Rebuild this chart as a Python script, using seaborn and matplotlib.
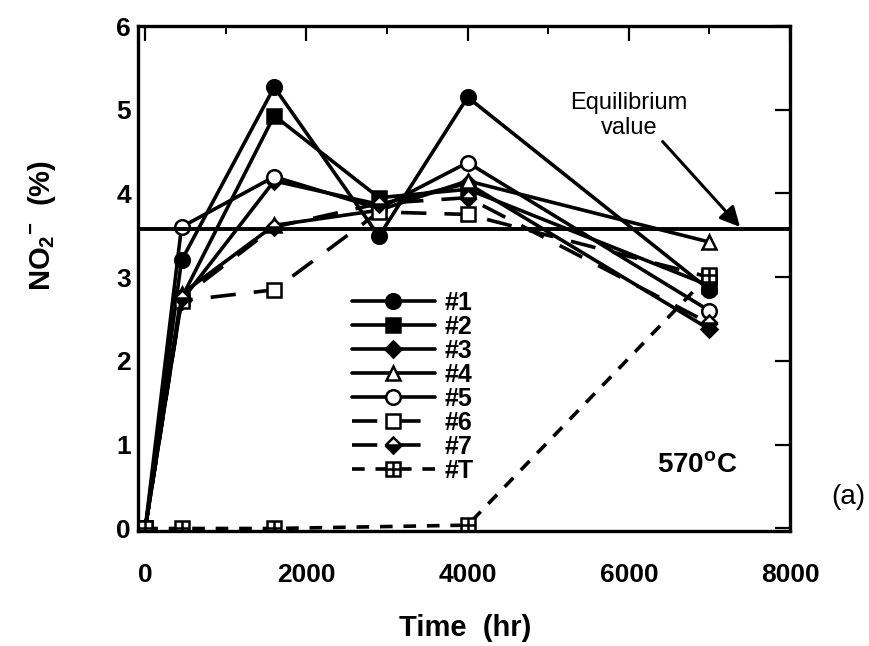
import matplotlib
matplotlib.use("Agg")
import matplotlib.pyplot as plt
import seaborn as sns
import numpy as np
import pandas as pd
from matplotlib.lines import Line2D
from matplotlib.legend_handler import HandlerTuple
from matplotlib.ticker import MultipleLocator

# ---------------- data ----------------
time_hr = [0, 450, 1600, 2900, 4000, 7000]
s1 = [0, 3.20, 5.27, 3.49, 5.15, 2.85]
s2 = [0, 2.75, 4.93, 3.95, 4.05, 2.90]
s3 = [0, 2.72, 4.15, 3.87, 4.12, 2.38]
s4 = [0, 2.80, 3.62, 3.80, 4.15, 3.42]
s5 = [0, 3.60, 4.20, 3.82, 4.37, 2.60]
s6 = [0, 2.72, 2.85, 3.78, 3.75, 3.00]
s7 = [0, 2.75, 3.60, 3.88, 3.95, 2.45]
time_T = [0, 450, 1600, 4000, 7000]
sT = [0, 0, 0, 0.04, 3.03]
labels = ["#1", "#2", "#3", "#4", "#5", "#6", "#7", "#T"]
equilibrium = 3.58
x_ticks = [0, 2000, 4000, 6000, 8000]
y_ticks = [0, 1, 2, 3, 4, 5, 6]

sns.set_style("white")
plt.rcParams["font.family"] = ["Liberation Sans", "DejaVu Sans"]
plt.rcParams["mathtext.fontset"] = "custom"
plt.rcParams["mathtext.rm"] = "Liberation Sans"
plt.rcParams["mathtext.bf"] = "Liberation Sans:bold"
plt.rcParams["text.color"] = "black"
plt.rcParams["axes.labelcolor"] = "black"
plt.rcParams["xtick.color"] = "black"
plt.rcParams["ytick.color"] = "black"

fig = plt.figure(figsize=(8.7, 6.46), dpi=100)
W, H = 870, 646
left, right, top, bottom = 138, 790, 26, 531
ax = fig.add_axes([left / W, 1 - bottom / H, (right - left) / W, (bottom - top) / H])

lw = 2.6
ms = 10.5
solid = "-"
longdash = (0, (7, 5))
shortdash = (0, (3.5, 3))

styles = [
    dict(marker="o", mfc="black", ls=solid),
    dict(marker="s", mfc="black", ls=solid),
    dict(marker="D", mfc="black", ls=solid, ms=8.5),
    dict(marker="^", mfc="white", ls=solid),
    dict(marker="o", mfc="white", ls=solid),
    dict(marker="s", mfc="white", ls=longdash),
    dict(marker="D", mfc="black", ls=longdash, ms=8.5, fillstyle="bottom"),
    dict(marker="s", mfc="white", ls=shortdash),
]
series = [s1, s2, s3, s4, s5, s6, s7]


def style_kw(st):
    kw = dict(marker=st["marker"], markerfacecolor=st["mfc"], markeredgecolor="black",
              markeredgewidth=1.8, markersize=st.get("ms", ms), linestyle=st["ls"],
              linewidth=lw, color="black")
    if "fillstyle" in st:
        kw["fillstyle"] = st["fillstyle"]
        kw["markerfacecoloralt"] = "white"
    return kw


for i, vals in enumerate(series):
    sns.lineplot(x=time_hr, y=vals, ax=ax, sort=False, **style_kw(styles[i]))

# #T series: square with plus
sns.lineplot(x=time_T, y=sT, ax=ax, sort=False, **style_kw(styles[7]))
ax.plot(time_T, sT, linestyle="none", marker="+", markersize=ms,
        markeredgewidth=1.8, color="black")

# equilibrium line
ax.axhline(equilibrium, color="black", linewidth=2.8)

ax.set_xlim(-90, 8000)
ax.set_ylim(-0.03, 6.0)
ax.set_xticks(x_ticks)
ax.set_yticks(y_ticks)
ax.xaxis.set_minor_locator(MultipleLocator(1000))
ax.tick_params(which="major", direction="in", top=True, right=True, length=11,
               width=1.6, labelsize=19, colors="black")
ax.tick_params(which="minor", direction="in", top=True, right=True, length=6, width=1.4)
ax.tick_params(axis="x", which="major", pad=23)
ax.tick_params(axis="y", which="major", pad=5)
for lab in ax.get_xticklabels() + ax.get_yticklabels():
    lab.set_fontweight("bold")
for sp in ax.spines.values():
    sp.set_visible(True)
    sp.set_linewidth(2.4)
    sp.set_color("black")

ax.set_xlabel("Time  (hr)", fontsize=21, fontweight="bold", color="black")
ax.xaxis.set_label_coords((465 - left) / (right - left), -(628 - bottom) / (bottom - top))
ax.set_ylabel(r"NO$_\mathbf{2}$$^{\mathbf{-}}$  (%)", fontsize=21, fontweight="bold", color="black")
ax.yaxis.set_label_coords(-(left - 42) / (right - left), (bottom - 225) / (bottom - top))
ax.xaxis.label.set_va("center")
ax.yaxis.label.set_va("center")

# legend
handles = [Line2D([], [], **style_kw(styles[i])) for i in range(7)]
hT1 = Line2D([], [], **style_kw(styles[7]))
hT2 = Line2D([], [], marker="+", markersize=ms, markeredgewidth=1.8,
             linestyle="none", color="black")
handles.append((hT1, hT2))
leg = ax.legend(handles, labels, handler_map={tuple: HandlerTuple(ndivide=1)},
                loc="upper left", bbox_to_anchor=((337 - left) / (right - left),
                                                  (bottom - 276) / (bottom - top)),
                frameon=False, fontsize=18, handlelength=3.3, handletextpad=0.4,
                labelspacing=0.0, borderpad=0.1)
for t in leg.get_texts():
    t.set_fontweight("bold")
    t.set_color("black")

# annotations
ax.text(6000, 4.93, "Equilibrium\nvalue", ha="center", va="center", fontsize=17,
        linespacing=1.2, color="black")
ax.annotate("", xy=(7380, equilibrium + 0.02), xytext=(6420, 4.62),
            arrowprops=dict(arrowstyle="-|>", color="black", lw=2.2, mutation_scale=30,
                            shrinkA=0, shrinkB=0))
ax.text(6850, 0.75, r"570$^{\mathbf{o}}$C", ha="center", va="center", fontsize=20,
        fontweight="bold", color="black")
fig.text(848 / W, 1 - 497 / H, "(a)", ha="center", va="center", fontsize=20, color="black")

fig.savefig("out.png", dpi=100)
